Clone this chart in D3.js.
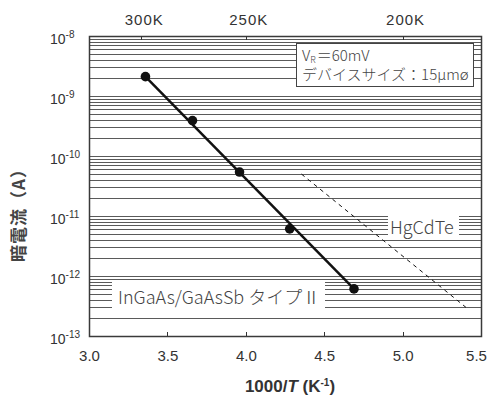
<!DOCTYPE html>
<html>
<head>
<meta charset="utf-8">
<script src="https://cdn.jsdelivr.net/npm/d3@7"></script>
<style>
  body { margin: 0; background: #fff; }
  svg { display: block; }
</style>
</head>
<body>
<svg id="chart" width="488" height="398"></svg>
<script>
// measured dark current vs inverse temperature
const invT = [3.36, 3.66, 3.96, 4.28, 4.69]
const darkCurrent = [2.1e-9, 3.9e-10, 5.4e-11, 6.1e-12, 6.1e-13]

// fitted line through the InGaAs/GaAsSb points
const fitX = [3.36, 4.69]
const fitY = [2.1e-9, 6.1e-13]

// HgCdTe reference (dashed)
const hgX = [4.355, 5.404]
const hgY = [5.0e-11, 3.0e-13]

const xTicks = [3.0, 3.5, 4.0, 4.5, 5.0, 5.5]
const tempTicks = [300, 250, 200]
const yExponents = [-8, -9, -10, -11, -12, -13]

const margin = { top: 36, left: 89, right: 7, bottom: 62 }
const width = 488, height = 398
const chartW = width - margin.left - margin.right
const chartH = height - margin.top - margin.bottom

const svg = d3.select("#chart")
const latin = "'Liberation Sans', Arial, sans-serif"
const jp = "'Noto Sans CJK JP', sans-serif"

const x = d3.scaleLinear().domain([3, 5.5]).range([margin.left, margin.left + chartW])
const y = d3.scaleLog().domain([1e-13, 1e-8]).range([margin.top + chartH, margin.top])

const crisp = v => Math.round(v) + 0.5

// horizontal minor grid, one line per 1..9 of every decade
let gridVals = []
for (let d = -13; d < -8; d++) {
    for (let m = 1; m <= 9; m++) gridVals.push(m * Math.pow(10, d))
}
svg.append("g").selectAll("line")
    .data(gridVals)
    .enter().append("line")
    .attr("x1", x(3)).attr("x2", x(5.5))
    .attr("y1", d => crisp(y(d))).attr("y2", d => crisp(y(d)))
    .attr("stroke", "#5a5a5a")
    .attr("stroke-width", 1)

// white knock-outs behind the labels
svg.append("rect").attr("x", 112).attr("y", 280).attr("width", 213).attr("height", 32).attr("fill", "#fff")
svg.append("rect").attr("x", 388).attr("y", 212).attr("width", 71).attr("height", 26).attr("fill", "#fff")

// frame
svg.append("rect")
    .attr("x", crisp(x(3))).attr("y", crisp(y(1e-8)))
    .attr("width", Math.round(chartW)).attr("height", Math.round(chartH))
    .attr("fill", "none").attr("stroke", "#3a3a3a").attr("stroke-width", 1.5)

// bottom axis
const xAxis = d3.axisBottom(x).tickValues(xTicks).tickSize(0).tickPadding(14).tickFormat(d3.format(".1f"))
const gx = svg.append("g").attr("transform", "translate(0," + (margin.top + chartH) + ")").call(xAxis)
gx.select(".domain").remove()
gx.selectAll("text").style("font-family", latin).style("font-size", "15px").attr("fill", "#333")
    .attr("dx", d => d === 5.5 ? -5 : 0)
svg.append("g").selectAll("line")
    .data(xTicks.slice(1, -1))
    .enter().append("line")
    .attr("x1", d => crisp(x(d))).attr("x2", d => crisp(x(d)))
    .attr("y1", margin.top + chartH).attr("y2", margin.top + chartH - 4)
    .attr("stroke", "#333")

// top axis in kelvin
const gt = svg.append("g")
gt.selectAll("line")
    .data(tempTicks)
    .enter().append("line")
    .attr("x1", d => crisp(x(1000 / d))).attr("x2", d => crisp(x(1000 / d)))
    .attr("y1", margin.top).attr("y2", margin.top + 4)
    .attr("stroke", "#333")
gt.selectAll("text")
    .data(tempTicks)
    .enter().append("text")
    .attr("x", d => x(1000 / d) + 3)
    .attr("y", 25)
    .attr("text-anchor", "middle")
    .style("font-family", latin).style("font-size", "15px").style("letter-spacing", "1px").attr("fill", "#333")
    .text(d => d + "K")

// y labels 10^n
const yl = svg.append("g").selectAll("text")
    .data(yExponents)
    .enter().append("text")
    .attr("x", 50)
    .attr("y", d => y(Math.pow(10, d)) + 8)
    .style("font-family", latin).style("font-size", "14px").attr("fill", "#333")
yl.append("tspan").text("10")
yl.append("tspan").attr("dy", -6).style("font-size", "10px").text(d => d)

// axis titles
const xt = svg.append("text")
    .attr("x", margin.left + chartW / 2 + 5).attr("y", 392)
    .attr("text-anchor", "middle")
    .style("font-family", latin).style("font-size", "17px").style("font-weight", "bold").attr("fill", "#333")
xt.append("tspan").text("1000/")
xt.append("tspan").style("font-style", "italic").text("T")
xt.append("tspan").text(" (K")
xt.append("tspan").attr("dy", -6).style("font-size", "10px").text("-1")
xt.append("tspan").attr("dy", 6).text(")")

svg.append("text")
    .attr("transform", "translate(25," + 211 + ") rotate(-90)")
    .attr("text-anchor", "middle")
    .style("font-family", jp).style("font-size", "17px").style("font-weight", "bold")
    .style("letter-spacing", "1px").attr("fill", "#444")
    .text("暗電流（A）")

// HgCdTe dashed reference
svg.append("path")
    .datum(d3.zip(hgX, hgY))
    .attr("d", d3.line().x(d => x(d[0])).y(d => y(d[1])))
    .attr("fill", "none").attr("stroke", "#111").attr("stroke-width", 1)
    .attr("stroke-dasharray", "4,4")

// fitted line and measured points
svg.append("path")
    .datum(d3.zip(fitX, fitY))
    .attr("d", d3.line().x(d => x(d[0])).y(d => y(d[1])))
    .attr("fill", "none").attr("stroke", "#111").attr("stroke-width", 2.5)

svg.append("g").selectAll("circle")
    .data(d3.zip(invT, darkCurrent))
    .enter().append("circle")
    .attr("cx", d => x(d[0])).attr("cy", d => y(d[1]))
    .attr("r", 4.8)
    .attr("fill", "#111")

// in-plot labels
svg.append("text")
    .attr("x", 390).attr("y", 234)
    .style("font-family", jp).style("font-size", "18px").style("font-weight", 300).attr("fill", "#444")
    .text("HgCdTe")

svg.append("text")
    .attr("x", 118).attr("y", 304)
    .style("font-family", jp).style("font-size", "18px").style("font-weight", 300).attr("fill", "#444")
    .text("InGaAs/GaAsSb タイプⅡ")

// conditions box
const lg = svg.append("g")
lg.append("rect")
    .attr("x", 296.5).attr("y", 43.5).attr("width", 177).attr("height", 43)
    .attr("fill", "#fff").attr("stroke", "#444").attr("stroke-width", 1)
const l1 = lg.append("text")
    .attr("x", 302).attr("y", 61)
    .style("font-family", jp).style("font-size", "15px").style("font-weight", 300).attr("fill", "#444")
l1.append("tspan").text("V")
l1.append("tspan").attr("dy", 2).style("font-size", "9px").text("R")
l1.append("tspan").attr("dy", -2).attr("dx", 1).text("＝60mV")
lg.append("text")
    .attr("x", 302).attr("y", 80)
    .style("font-family", jp).style("font-size", "15px").style("font-weight", 300).attr("fill", "#444")
    .text("デバイスサイズ：15μmø")
</script>
</body>
</html>
